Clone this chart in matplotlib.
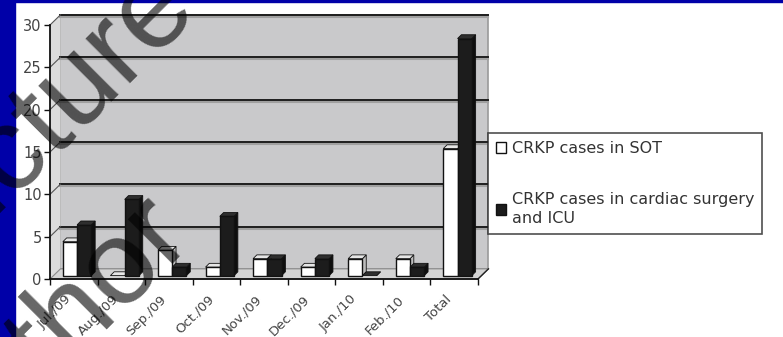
import matplotlib.pyplot as plt
from matplotlib.patches import Polygon, Rectangle, Patch
from matplotlib.transforms import ScaledTranslation
import numpy as np

plt.rcParams["font.family"] = ["DejaVu Sans"]

categories = ["Jul./09", "Aug./09", "Sep./09", "Oct./09", "Nov./09",
              "Dec./09", "Jan./10", "Feb./10", "Total"]
sot_cases = [4, 0, 3, 1, 2, 1, 2, 2, 15]
cardiac_icu_cases = [6, 9, 1, 7, 2, 2, 0, 1, 28]
series_labels = ["CRKP cases in SOT", "CRKP cases in cardiac surgery\nand ICU"]
yticks = [0, 5, 10, 15, 20, 25, 30]

W, H = 783, 337
fig = plt.figure(figsize=(W / 100, H / 100), dpi=100)

# slide frame: blue strip on the left, thin blue band on top
fig.patches.append(Rectangle((0, 0), 15 / W, 1, transform=fig.transFigure,
                             color="#0000a8", zorder=0))
fig.patches.append(Rectangle((0, 1 - 2 / H), 1, 2 / H, transform=fig.transFigure,
                             color="#0000a8", zorder=0))

ax = fig.add_axes([50 / W, (H - 279) / H, 428 / W, 254 / H])
n = len(categories)
ax.set_xlim(0, n)
ax.set_ylim(0, 30)

# pseudo 3d depth of the chart box (data units)
dx, dy = 0.22, 1.2
wall = "#c9c9cb"
ax.add_patch(Polygon([(dx, dy), (n + dx, dy), (n + dx, 30 + dy), (dx, 30 + dy)],
                     closed=True, facecolor=wall, edgecolor="#9a9a9a", lw=1.2,
                     clip_on=False, zorder=0))
ax.add_patch(Polygon([(0, 0), (dx, dy), (dx, 30 + dy), (0, 30)], closed=True,
                     facecolor="#dcdcdc", edgecolor="none", clip_on=False, zorder=0))
ax.add_patch(Polygon([(0, 0), (n, 0), (n + dx, dy), (dx, dy)], closed=True,
                     facecolor="#d4d4d4", edgecolor="#8a8a8a", lw=0.8,
                     clip_on=False, zorder=0))
for t in yticks[1:]:
    ax.plot([dx, n + dx], [t + dy - 0.25, t + dy - 0.25], color="#a0a0a0", lw=1.5,
            zorder=1, clip_on=False)
    ax.plot([dx, n + dx], [t + dy, t + dy], color="#1e1e1e", lw=1.4, zorder=1, clip_on=False)
    ax.plot([0, dx], [t, t + dy], color="#555555", lw=0.8, zorder=1, clip_on=False)
ax.plot([n, n + dx], [0, dy], color="#222222", lw=1.0, zorder=1, clip_on=False)

# bars with a small extruded look
bw = 0.3
ox, oy = 0.05, 0.4
ddx, ddy = 0.08, 0.45


def bar3d(x0, v, face, top, side):
    x1 = x0 + bw
    y0, y1 = oy, oy + v
    ax.add_patch(Polygon([(x1, y0), (x1 + ddx, y0 + ddy), (x1 + ddx, y1 + ddy), (x1, y1)],
                         closed=True, facecolor=side, edgecolor="#111111", lw=0.6, zorder=3))
    ax.add_patch(Polygon([(x0, y1), (x1, y1), (x1 + ddx, y1 + ddy), (x0 + ddx, y1 + ddy)],
                         closed=True, facecolor=top, edgecolor="#111111", lw=0.6, zorder=3))
    if v > 0:
        ax.add_patch(Rectangle((x0, y0), bw, v, facecolor=face, edgecolor="#111111",
                               lw=1.0, zorder=3))


for i in range(n):
    left = i + 0.22 + ox
    bar3d(left, sot_cases[i], "white", "#e6e6e6", "#bdbdbd")
    bar3d(left + bw, cardiac_icu_cases[i], "#1c1c1c", "#2e2e2e", "#0e0e0e")

for s in ["top", "right"]:
    ax.spines[s].set_visible(False)
for s in ["left", "bottom"]:
    ax.spines[s].set_color("#111111")
    ax.spines[s].set_linewidth(1.3)
    ax.spines[s].set_zorder(4)

ax.set_yticks(yticks)
ax.set_yticklabels([str(t) for t in yticks], fontsize=10.5, color="#444444")
ax.tick_params(axis="y", length=4, width=1.0, color="#111111", pad=2)
ax.set_xticks(np.arange(n) + 0.5)
ax.set_xticklabels(categories, rotation=45, ha="right", va="top",
                   rotation_mode="anchor", fontsize=9.5, color="#444444")
ax.tick_params(axis="x", which="major", length=0, pad=7)
ax.set_xticks(np.arange(n + 1), minor=True)
ax.tick_params(axis="x", which="minor", length=4, width=1.0, color="#111111", direction="out")
shift = ScaledTranslation(-0.09, -0.04, fig.dpi_scale_trans)
for lab in ax.get_xticklabels():
    lab.set_transform(lab.get_transform() + shift)
ax.patch.set_alpha(0)

handles = [Patch(facecolor="white", edgecolor="#111111", lw=1.0),
           Patch(facecolor="#1c1c1c", edgecolor="#111111", lw=1.0)]
leg = fig.legend(handles, series_labels, loc="upper left",
                 bbox_to_anchor=(488 / W, 1 - 133 / H), fontsize=11.5,
                 frameon=True, fancybox=False, edgecolor="#222222",
                 handlelength=0.65, handleheight=0.65, handletextpad=0.35,
                 labelspacing=2.25, borderpad=0.5, borderaxespad=0,
                 labelcolor="#333333")
leg.get_frame().set_linewidth(1.2)
leg.get_texts()[1].set_linespacing(1.35)

# watermark overlay
fig.text(197 / W, 1 - 6 / H, "Picture", fontsize=86, rotation=45, ha="right",
         va="baseline", rotation_mode="anchor", color="black", alpha=0.6, zorder=10,
         family="Liberation Sans")
fig.text(195 / W, 1 - 237 / H, "author", fontsize=86, rotation=45, ha="right",
         va="baseline", rotation_mode="anchor", color="black", alpha=0.6, zorder=10,
         family="Liberation Sans")

fig.savefig("out.png", dpi=100)
